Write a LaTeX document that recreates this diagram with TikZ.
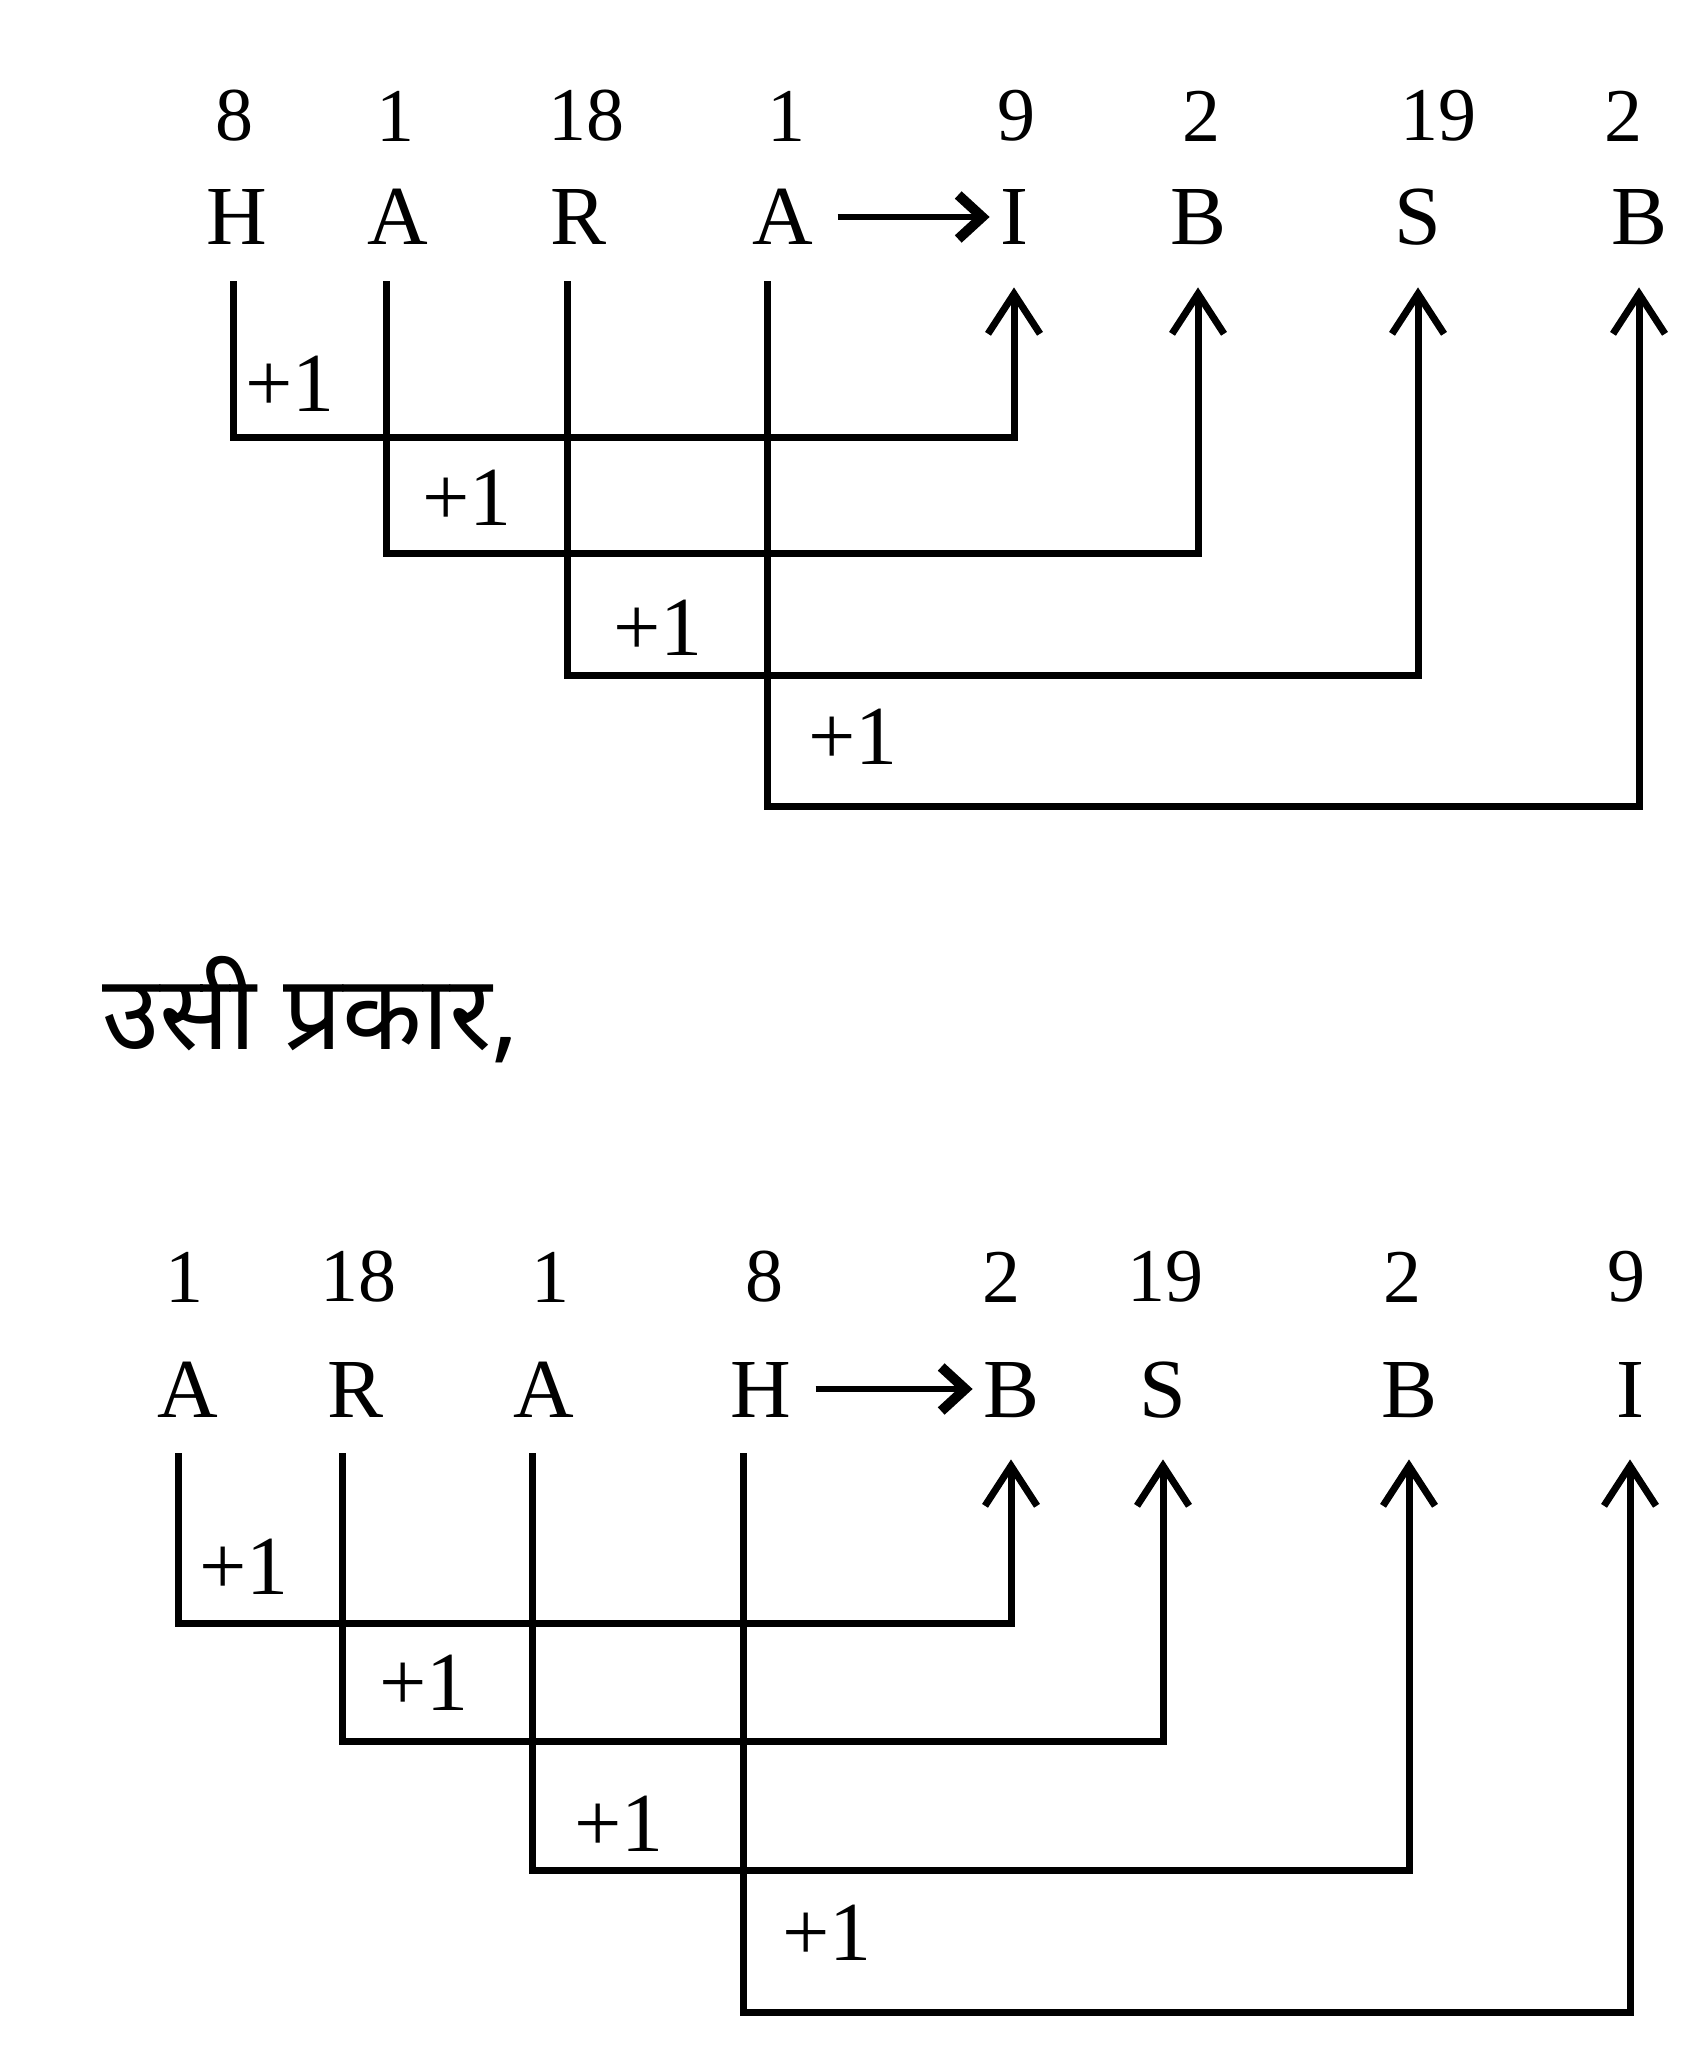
\documentclass[tikz,border=0pt]{standalone}
\usepackage{fontspec}
\setmainfont{Liberation Serif}
\newfontfamily\hindifont[Script=Devanagari]{Noto Sans}
\usetikzlibrary{arrows.meta}

\begin{document}
\begin{tikzpicture}[
  x=0.5pt, y=-0.5pt,
  letter/.style={font=\fontsize{42}{42}\selectfont, inner sep=0pt, text height=28pt, text depth=0pt},
  number/.style={font=\fontsize{38}{38}\selectfont, inner sep=0pt},
  plus/.style={font=\fontsize{42}{42}\selectfont, inner sep=0pt},
  link/.style={draw, line width=3.5pt, shorten <=18pt, shorten >=21pt, -{Straight Barb[length=20pt,width=26pt,line width=3.5pt]}},
  becomes/.style={draw, line width=3pt, shorten <=12pt, shorten >=5pt, -{Straight Barb[length=12pt,width=22pt,line width=5pt]}}
  ]
\useasboundingbox (0,0) rectangle (1692,2064);

% HARA -> IBSB
\node[number] (tn1) at (234,116) {8};
\node[number] (tn2) at (395,116) {1};
\node[number] (tn3) at (586,116) {18};
\node[number] (tn4) at (786,116) {1};
\node[number] (tn5) at (1016,116) {9};
\node[number] (tn6) at (1201,116) {2};
\node[number] (tn7) at (1438,116) {19};
\node[number] (tn8) at (1623,116) {2};

\node[letter] (tH) at (237,217) {H};
\node[letter] (tA1) at (398,217) {A};
\node[letter] (tR) at (579,217) {R};
\node[letter] (tA2) at (783,217) {A};
\node[letter] (tI) at (1014,217) {I};
\node[letter] (tB1) at (1198,217) {B};
\node[letter] (tS) at (1418,217) {S};
\node[letter] (tB2) at (1639,217) {B};

\draw[becomes] (tA2.east) -- (tI.west);

\coordinate (t1) at (0,438);
\coordinate (t2) at (0,553);
\coordinate (t3) at (0,675);
\coordinate (t4) at (0,806);

\draw[link] ([xshift=-2pt]tH.south) -- ([xshift=-2pt]tH.south |- t1) -| (tI.south);
\draw[link] ([xshift=-6pt]tA1.south) -- ([xshift=-6pt]tA1.south |- t2) -| (tB1.south);
\draw[link] ([xshift=-6pt]tR.south) -- ([xshift=-6pt]tR.south |- t3) -| (tS.south);
\draw[link] ([xshift=-8pt]tA2.south) -- ([xshift=-8pt]tA2.south |- t4) -| (tB2.south);

\node[plus] (tp1) at (290,384) {+1};
\node[plus] (tp2) at (467,498) {+1};
\node[plus] (tp3) at (658,628) {+1};
\node[plus] (tp4) at (853,737) {+1};

\node[anchor=west, font=\hindifont\fontsize{52}{52}\selectfont] (same) at (95,1010) {उसी प्रकार,};

% ARAH -> BSBI
\node[number] (bn1) at (184,1277) {1};
\node[number] (bn2) at (358,1277) {18};
\node[number] (bn3) at (550,1277) {1};
\node[number] (bn4) at (764,1277) {8};
\node[number] (bn5) at (1001,1277) {2};
\node[number] (bn6) at (1165,1277) {19};
\node[number] (bn7) at (1402,1277) {2};
\node[number] (bn8) at (1626,1277) {9};

\node[letter] (bA1) at (188,1389) {A};
\node[letter] (bR) at (356,1389) {R};
\node[letter] (bA2) at (544,1389) {A};
\node[letter] (bH) at (761,1389) {H};
\node[letter] (bB1) at (1011,1389) {B};
\node[letter] (bS) at (1163,1389) {S};
\node[letter] (bB2) at (1409,1389) {B};
\node[letter] (bI) at (1630,1389) {I};

\draw[becomes] (bH.east) -- (bB1.west);

\coordinate (b1) at (0,1623);
\coordinate (b2) at (0,1741);
\coordinate (b3) at (0,1870);
\coordinate (b4) at (0,2012);

\draw[link] ([xshift=-5pt]bA1.south) -- ([xshift=-5pt]bA1.south |- b1) -| (bB1.south);
\draw[link] ([xshift=-7pt]bR.south) -- ([xshift=-7pt]bR.south |- b2) -| (bS.south);
\draw[link] ([xshift=-6pt]bA2.south) -- ([xshift=-6pt]bA2.south |- b3) -| (bB2.south);
\draw[link] ([xshift=-9pt]bH.south) -- ([xshift=-9pt]bH.south |- b4) -| (bI.south);

\node[plus] (bp1) at (244,1567) {+1};
\node[plus] (bp2) at (424,1683) {+1};
\node[plus] (bp3) at (619,1824) {+1};
\node[plus] (bp4) at (827,1933) {+1};
\end{tikzpicture}
\end{document}
